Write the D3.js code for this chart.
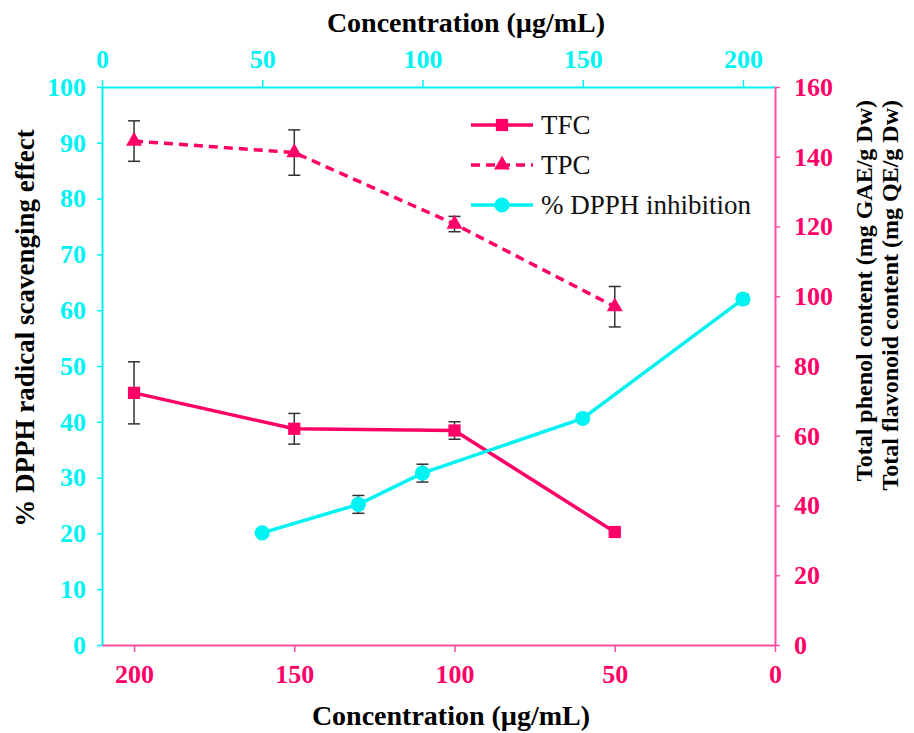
<!DOCTYPE html>
<html>
<head>
<meta charset="utf-8">
<script src="https://cdn.jsdelivr.net/npm/d3@7"></script>
<style>
  body { margin: 0; background: #fff; }
  svg text { font-family: "Liberation Serif", "Times New Roman", serif; }
</style>
</head>
<body>
<div id="chart"></div>
<script>
// bottom-axis concentrations (TFC / TPC)
var concPhenol = [200, 150, 100, 50];
var tfc = [72.3, 62.0, 61.5, 32.4];
var tfcErr = [8.9, 4.4, 2.5, 0.4];
var tpc = [144.5, 141.2, 120.7, 97.0];
var tpcErr = [5.8, 6.5, 2.2, 5.8];

// top-axis concentrations (DPPH)
var concDpph = [50, 80, 100, 150, 200];
var dpph = [20.1, 25.2, 30.8, 40.6, 62.0];
var dpphErr = [0.4, 1.6, 1.6, 0.4, 0.8];

var leftTicks = [0, 10, 20, 30, 40, 50, 60, 70, 80, 90, 100];
var rightTicks = [0, 20, 40, 60, 80, 100, 120, 140, 160];
var concTicks = [0, 50, 100, 150, 200];

var pink = "#ff0066", pinkAxis = "#ff4da6", cyan = "#00f2f2";
var serif = '"Liberation Serif", "Times New Roman", serif';

var W = 914, H = 733;
var svg = d3.select("#chart").append("svg").attr("width", W).attr("height", H);

var x0 = 102, x1 = 775, yTop = 87, yBot = 645;

var xBottom = d3.scaleLinear().domain([210, 0]).range([x0, x1]);
var xTop = d3.scaleLinear().domain([0, 210]).range([x0, x1]);
var yLeft = d3.scaleLinear().domain([0, 100]).range([yBot, yTop]);
var yRight = d3.scaleLinear().domain([0, 160]).range([yBot, yTop]);

function styleAxis(g, lineCol, textCol) {
  g.attr("font-family", serif);
  g.selectAll("path").attr("stroke", lineCol).attr("stroke-width", 2);
  g.selectAll("line").attr("stroke", lineCol).attr("stroke-width", 1.5);
  g.selectAll("text").attr("fill", textCol)
    .style("font-family", serif)
    .style("font-size", "26px").style("font-weight", "bold");
}

// axes
var gTop = svg.append("g").attr("transform", "translate(0," + yTop + ")")
  .call(d3.axisTop(xTop).tickValues(concTicks).tickSize(7).tickSizeOuter(0).tickPadding(12));
styleAxis(gTop, cyan, cyan);

var gLeft = svg.append("g").attr("transform", "translate(" + x0 + ",0)")
  .call(d3.axisLeft(yLeft).tickValues(leftTicks).tickSize(5).tickSizeOuter(0).tickPadding(11));
styleAxis(gLeft, cyan, cyan);

var gBottom = svg.append("g").attr("transform", "translate(0," + yBot + ")")
  .call(d3.axisBottom(xBottom).tickValues(concTicks).tickSize(7).tickSizeOuter(0).tickPadding(13));
styleAxis(gBottom, pinkAxis, pink);

var gRight = svg.append("g").attr("transform", "translate(" + x1 + ",0)")
  .call(d3.axisRight(yRight).tickValues(rightTicks).tickSize(5).tickSizeOuter(0).tickPadding(14));
styleAxis(gRight, pinkAxis, pink);

// axis titles
function title(t, fs) {
  return t.attr("text-anchor", "middle").style("font-family", serif)
    .style("font-size", fs + "px").style("font-weight", "bold");
}
title(svg.append("text").attr("x", 466).attr("y", 32), 28).text("Concentration (µg/mL)");
title(svg.append("text").attr("x", 451).attr("y", 725), 28).text("Concentration (µg/mL)");
title(svg.append("text").attr("transform", "translate(34,328) rotate(-90)"), 27).text("% DPPH radical scavenging effect");
title(svg.append("text").attr("transform", "translate(872,100) rotate(-90)"), 24)
  .attr("text-anchor", "end").text("Total phenol content (mg GAE/g Dw)");
title(svg.append("text").attr("transform", "translate(898,100) rotate(-90)"), 24)
  .attr("text-anchor", "end").text("Total flavonoid content (mg QE/g Dw)");

// series
var series = [
  { name: "TFC", xs: concPhenol, ys: tfc, err: tfcErr, x: xBottom, y: yRight, col: pink, dash: null, sym: d3.symbolSquare, size: 150 },
  { name: "TPC", xs: concPhenol, ys: tpc, err: tpcErr, x: xBottom, y: yRight, col: pink, dash: "9,6", sym: d3.symbolTriangle, size: 110 },
  { name: "% DPPH inhibition", xs: concDpph, ys: dpph, err: dpphErr, x: xTop, y: yLeft, col: cyan, dash: null, sym: d3.symbolCircle, size: 180 }
];

series.forEach(function(s) {
  var pts = s.xs.map(function(c, i) { return { c: c, v: s.ys[i], e: s.err[i] }; });
  var line = d3.line().x(function(d) { return s.x(d.c); }).y(function(d) { return s.y(d.v); });

  svg.append("path").datum(pts)
    .attr("d", line).attr("fill", "none")
    .attr("stroke", s.col).attr("stroke-width", 3.5)
    .attr("stroke-dasharray", s.dash);

  // error bars
  var eb = svg.append("g").selectAll("g").data(pts).enter().append("g");
  eb.append("line")
    .attr("x1", function(d) { return s.x(d.c); }).attr("x2", function(d) { return s.x(d.c); })
    .attr("y1", function(d) { return s.y(d.v + d.e); }).attr("y2", function(d) { return s.y(d.v - d.e); })
    .attr("stroke", "#333").attr("stroke-width", 1.5);
  [1, -1].forEach(function(sgn) {
    eb.append("line")
      .attr("x1", function(d) { return s.x(d.c) - 6; }).attr("x2", function(d) { return s.x(d.c) + 6; })
      .attr("y1", function(d) { return s.y(d.v + sgn * d.e); }).attr("y2", function(d) { return s.y(d.v + sgn * d.e); })
      .attr("stroke", "#333").attr("stroke-width", 1.5);
  });

  svg.append("g").selectAll("path").data(pts).enter().append("path")
    .attr("d", d3.symbol().type(s.sym).size(s.size))
    .attr("transform", function(d) { return "translate(" + s.x(d.c) + "," + s.y(d.v) + ")"; })
    .attr("fill", s.col);
});

// legend
var leg = svg.append("g").attr("transform", "translate(471,125)");
series.forEach(function(s, i) {
  var g = leg.append("g").attr("transform", "translate(0," + (i * 40) + ")");
  g.append("line").attr("x1", 0).attr("x2", 62).attr("y1", 0).attr("y2", 0)
    .attr("stroke", s.col).attr("stroke-width", 3.5).attr("stroke-dasharray", s.dash);
  g.append("path").attr("d", d3.symbol().type(s.sym).size(s.size))
    .attr("transform", "translate(31,0)").attr("fill", s.col);
  g.append("text").attr("x", 70).attr("y", 9)
    .style("font-family", serif).style("font-size", "27px")
    .attr("fill", "#111").text(s.name);
});
</script>
</body>
</html>
